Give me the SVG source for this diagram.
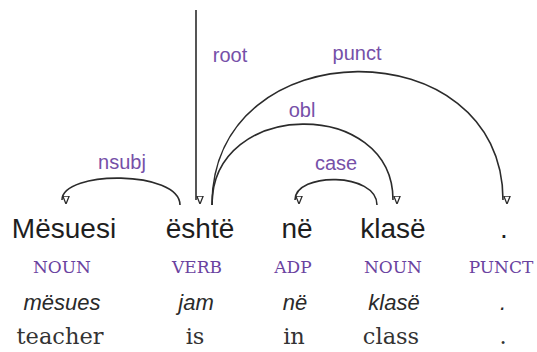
<svg xmlns="http://www.w3.org/2000/svg" width="537" height="352" viewBox="0 0 537 352">
  <style>
    .arc { fill: none; stroke: #2b2b2b; stroke-width: 1.6; marker-end: url(#head); }
    .rel { font-family: "Liberation Sans", Arial, sans-serif; font-size: 20px; fill: #7650a8; text-anchor: middle; }
    .form { font-family: "Liberation Sans", Arial, sans-serif; font-size: 28px; fill: #1e1e1e; text-anchor: middle; }
    .pos { font-family: "DejaVu Serif", serif; font-size: 17px; fill: #6a42a0; text-anchor: middle; }
    .lemma { font-family: "Liberation Sans", Arial, sans-serif; font-style: italic; font-size: 22px; fill: #2a2a2a; text-anchor: middle; }
    .gloss { font-family: "DejaVu Serif", serif; font-size: 22.5px; fill: #333333; text-anchor: middle; }
  </style>
  <defs>
    <marker id="head" viewBox="0 0 10 12" refX="5" refY="11" markerWidth="8" markerHeight="10" markerUnits="userSpaceOnUse" orient="auto-start-reverse">
      <path d="M1,1 L9,1 L5,11 Z" fill="#ffffff" stroke="#2b2b2b" stroke-width="1.6" transform="rotate(-90 5 6)"/>
    </marker>
  </defs>
  <rect width="537" height="352" fill="#ffffff"/>

  <!-- dependency arcs -->
  <g id="connectors">
    <path id="root" class="arc" d="M196,10 L196,200"/>
    <path id="nsubj" class="arc" d="M180,205 C180,170 62,170 62,200"/>
    <path id="punct" class="arc" d="M212,205 C212,28 503,28 503,200"/>
    <path id="obl" class="arc" d="M212,205 C212,98 393,98 393,200"/>
    <path id="case" class="arc" d="M377,205 C377,172 295,172 295,200"/>
    <text class="rel" x="230" y="62">root</text>
    <text class="rel" x="122" y="169">nsubj</text>
    <text class="rel" x="357" y="60">punct</text>
    <text class="rel" x="302" y="117">obl</text>
    <text class="rel" x="336" y="170">case</text>
  </g>

  <!-- tokens: form, POS tag, lemma, English gloss -->
  <g id="tok1">
    <text class="form" x="64" y="238">Mësuesi</text>
    <text class="pos" x="62" y="273">NOUN</text>
    <text class="lemma" x="62" y="310">mësues</text>
    <text class="gloss" x="60" y="344">teacher</text>
  </g>
  <g id="tok2">
    <text class="form" x="200" y="238">është</text>
    <text class="pos" x="197" y="273">VERB</text>
    <text class="lemma" x="196" y="310">jam</text>
    <text class="gloss" x="195" y="344">is</text>
  </g>
  <g id="tok3">
    <text class="form" x="297" y="238">në</text>
    <text class="pos" x="293" y="273">ADP</text>
    <text class="lemma" x="295" y="310">në</text>
    <text class="gloss" x="294" y="344">in</text>
  </g>
  <g id="tok4">
    <text class="form" x="393" y="238">klasë</text>
    <text class="pos" x="393" y="273">NOUN</text>
    <text class="lemma" x="394" y="310">klasë</text>
    <text class="gloss" x="391" y="344">class</text>
  </g>
  <g id="tok5">
    <text class="form" x="504" y="238">.</text>
    <text class="pos" x="501" y="273">PUNCT</text>
    <text class="lemma" x="503" y="310">.</text>
    <text class="gloss" x="503" y="344">.</text>
  </g>
</svg>
